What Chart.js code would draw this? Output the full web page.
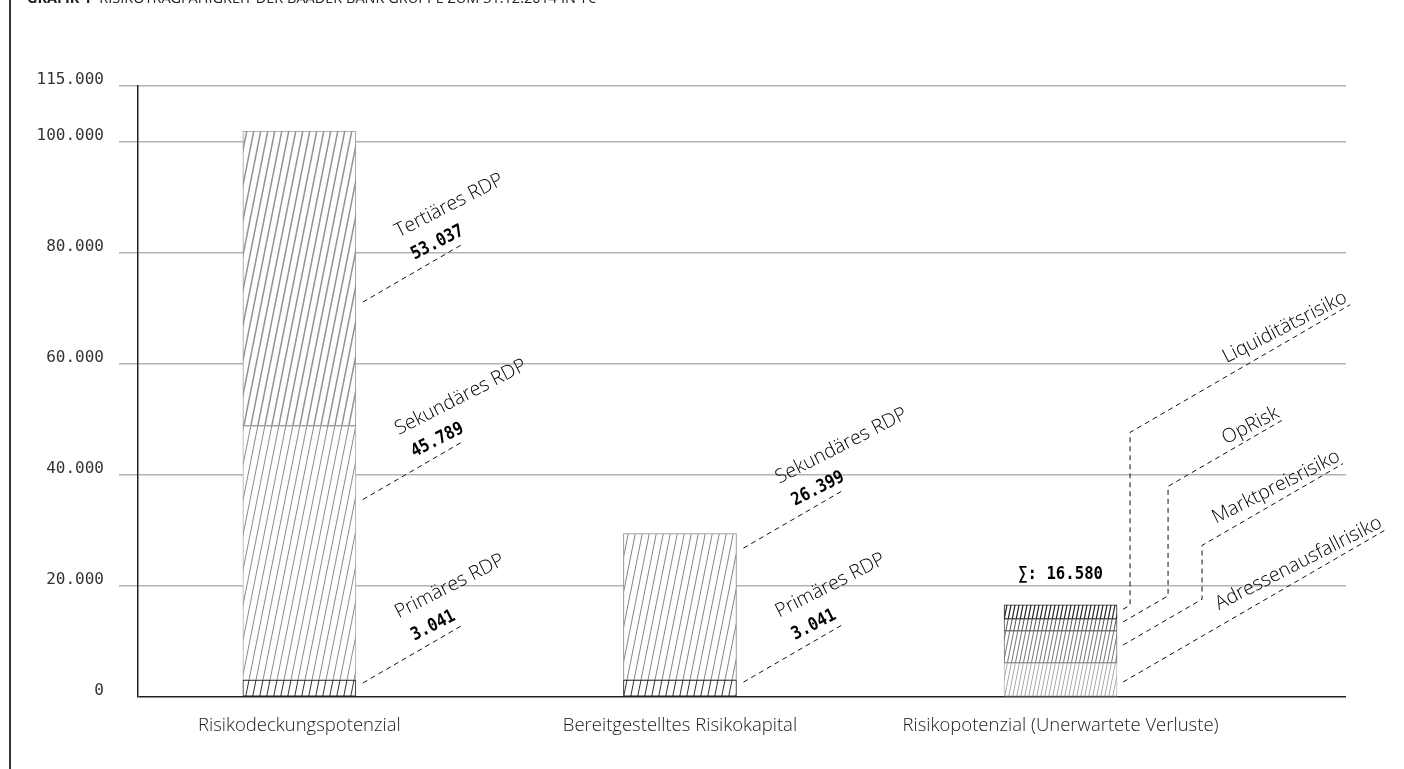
<!DOCTYPE html>
<html lang="de">
<head>
<meta charset="utf-8">
<title>Risikotragfähigkeit der Baader Bank Gruppe</title>
<script src="https://cdn.jsdelivr.net/npm/chart.js@4.4.1/dist/chart.umd.min.js"></script>
<style>
  body { margin: 0; background: #fff; }
  #wrap { position: relative; width: 1404px; height: 769px; overflow: hidden; }
  #frame { position: absolute; left: 9px; top: 0; width: 2px; height: 769px; background: #333; }
  #title { position: absolute; left: 27px; top: -12px; font: 14.5px "Open Sans", sans-serif; color: #222; white-space: nowrap; }
  #title b { margin-right: 4px; }
</style>
</head>
<body>
<div id="wrap">
  <canvas id="chart" width="1404" height="769"></canvas>
  <div id="frame"></div>
  <div id="title"><b>GRAFIK 1</b> RISIKOTRAGFÄHIGKEIT DER BAADER BANK GRUPPE ZUM 31.12.2014 IN T€</div>
</div>
<script>
// Kategorien (x-Achse)
const categories = ['Risikodeckungspotenzial', 'Bereitgestelltes Risikokapital', 'Risikopotenzial (Unerwartete Verluste)'];

// RDP-Segmente (in T€)
const primaer = [3041, 3041, null];
const sekundaer = [45789, 26399, null];
const tertiaer = [53037, null, null];
const rdpNames = ['Primäres RDP', 'Sekundäres RDP', 'Tertiäres RDP'];

// Risikopotenzial nach Risikoart (in T€)
const adressen = [null, null, 6126];
const marktpreis = [null, null, 5766];
const opRisk = [null, null, 2162];
const liquiditaet = [null, null, 2526];
const riskNames = ['Adressenausfallrisiko', 'Marktpreisrisiko', 'OpRisk', 'Liquiditätsrisiko'];

// y-Achse
const yTickValues = [0, 20000, 40000, 60000, 80000, 100000, 110000];
const yTickLabels = ['0', '20.000', '40.000', '60.000', '80.000', '100.000', '115.000'];

const rdpSeries = [primaer, sekundaer, tertiaer];
const riskSeries = [adressen, marktpreis, opRisk, liquiditaet];

const barWidth = 113;
const slope = 0.58;
const textAngle = -27 * Math.PI / 180;
const monoScale = 0.87;
const labelFont = '300 19.5px "Open Sans"';

function fmt(v) {
  return String(v).replace(/\B(?=(\d{3})+(?!\d))/g, '.');
}

const canvas = document.getElementById('chart');
const mainCtx = canvas.getContext('2d');

// diagonal hatch pattern
function hatch(step, color, width) {
  const c = document.createElement('canvas');
  c.width = step;
  c.height = step * 5;
  const g = c.getContext('2d');
  g.fillStyle = '#fff';
  g.fillRect(0, 0, c.width, c.height);
  g.strokeStyle = color;
  g.lineWidth = width;
  for (let k = -1; k <= 1; k++) {
    g.beginPath();
    g.moveTo(k * step, c.height);
    g.lineTo((k + 1) * step, 0);
    g.stroke();
  }
  return mainCtx.createPattern(c, 'repeat');
}

const toPoints = arr => arr.map((v, i) => v == null ? null : { x: i, y: v }).filter(p => p);

function dashed(ctx, pts) {
  ctx.save();
  ctx.setLineDash([5, 4]);
  ctx.strokeStyle = '#111';
  ctx.lineWidth = 1;
  ctx.beginPath();
  pts.forEach((p, j) => j ? ctx.lineTo(p[0], p[1]) : ctx.moveTo(p[0], p[1]));
  ctx.stroke();
  ctx.restore();
}

// where the leader leaves each segment (share of the segment height)
const rdpAnchor = [[0.83, 0.71, 0.42], [0.88, 0.9]];
// bar 3 leaders: anchor share, x of vertical jog, rise of jog above bar top, x of end (px from bar edge)
const riskLeaders = [
  { frac: 0.44, jog: null, rise: 0, end: 268 },
  { frac: 0.56, jog: 85, rise: 59.5, end: 226 },
  { frac: 0.75, jog: 51, rise: 118.5, end: 165 },
  { frac: 0.69, jog: 13, rise: 172.5, end: 233 }
];

const leaderPlugin = {
  id: 'leaders',
  afterDatasetsDraw(chart) {
    const { ctx, scales: { x, y } } = chart;
    const half = barWidth / 2;
    ctx.save();
    ctx.fillStyle = '#000';
    ctx.textBaseline = 'alphabetic';

    rdpSeries.forEach((arr, k) => {
      arr.forEach((v, i) => {
        if (v == null) return;
        let base = 0;
        for (let j = 0; j < k; j++) base += rdpSeries[j][i] || 0;
        const sx = x.getPixelForValue(i) + half + 7;
        const sy = y.getPixelForValue(base + v * rdpAnchor[i][k]);
        const ex = sx + 98, ey = sy - 98 * slope;
        dashed(ctx, [[sx, sy], [ex, ey]]);
        ctx.save();
        ctx.translate(ex, ey);
        ctx.rotate(textAngle);
        ctx.textAlign = 'left';
        ctx.font = labelFont;
        ctx.fillText(rdpNames[k], -52, -35);
        ctx.scale(monoScale, 1);
        ctx.font = 'bold 18px "DejaVu Sans Mono"';
        ctx.fillText(fmt(v), -48 / monoScale, -8);
        ctx.restore();
      });
    });

    // Risikopotenzial
    const bx = 2;
    const right = x.getPixelForValue(bx) + half;
    let total = 0;
    riskSeries.forEach(a => total += a[bx]);
    const topPx = y.getPixelForValue(total);
    let base = 0;
    riskSeries.forEach((arr, k) => {
      const v = arr[bx];
      const L = riskLeaders[k];
      const sx = right + 6;
      const sy = y.getPixelForValue(base + v * L.frac);
      base += v;
      let pts, ex, ey;
      if (L.jog == null) {
        ex = right + L.end;
        ey = sy - (ex - sx) * slope;
        pts = [[sx, sy], [ex, ey]];
      } else {
        const jx = right + L.jog;
        const jy = topPx - L.rise;
        ex = right + L.end;
        ey = jy - (ex - jx) * slope;
        pts = [[sx, sy], [jx, sy - (jx - sx) * slope], [jx, jy], [ex, ey]];
      }
      dashed(ctx, pts);
      ctx.save();
      ctx.translate(ex, ey);
      ctx.rotate(textAngle);
      ctx.textAlign = 'right';
      ctx.font = labelFont;
      ctx.fillText(riskNames[k], 0, -4);
      ctx.restore();
    });

    ctx.save();
    ctx.textAlign = 'center';
    ctx.font = 'bold 18px "DejaVu Sans Mono"';
    ctx.translate(x.getPixelForValue(bx), topPx - 26);
    ctx.scale(monoScale, 1);
    ctx.fillText('∑: ' + fmt(total), 0, 0);
    ctx.restore();

    ctx.restore();
  }
};

const datasets = [
  { label: rdpNames[0], data: toPoints(primaer), backgroundColor: hatch(7, '#333', 1), borderColor: '#222' },
  { label: rdpNames[1], data: toPoints(sekundaer), backgroundColor: [hatch(7, '#8a8a8a', 1), hatch(7, '#666', 0.8)], borderColor: ['#aaa', '#888'] },
  { label: rdpNames[2], data: toPoints(tertiaer), backgroundColor: hatch(7, '#919191', 1.5), borderColor: '#999' },
  { label: riskNames[0], data: toPoints(adressen), backgroundColor: hatch(4, '#aaa', 1), borderColor: '#bbb' },
  { label: riskNames[1], data: toPoints(marktpreis), backgroundColor: hatch(4, '#777', 1), borderColor: '#777' },
  { label: riskNames[2], data: toPoints(opRisk), backgroundColor: hatch(4, '#555', 1), borderColor: '#555' },
  { label: riskNames[3], data: toPoints(liquiditaet), backgroundColor: hatch(4, '#222', 1.2), borderColor: '#222' }
];
datasets.forEach(d => {
  d.borderWidth = 1;
  d.borderSkipped = false;
  d.barThickness = barWidth;
});

const isZero = c => c.tick && c.tick.value === 0;

new Chart(canvas, {
  type: 'bar',
  data: { datasets: datasets },
  options: {
    responsive: false,
    animation: false,
    layout: { padding: { top: 86, right: 58, left: 0, bottom: 0 } },
    plugins: { legend: { display: false }, tooltip: { enabled: false } },
    scales: {
      x: {
        type: 'linear',
        offset: false,
        min: -0.424,
        max: 2.75,
        stacked: true,
        grid: { display: false, offset: false },
        border: { display: false },
        afterBuildTicks: s => { s.ticks = categories.map((c, i) => ({ value: i })); },
        afterFit: s => { s.height = 72; },
        ticks: {
          autoSkip: false,
          maxRotation: 0,
          padding: 10,
          color: '#1a1a1a',
          font: { family: '"Open Sans"', size: 18.5, weight: '300' },
          callback: (v, i) => categories[i]
        }
      },
      y: {
        min: 0,
        max: 110000,
        stacked: true,
        afterBuildTicks: s => { s.ticks = yTickValues.map(v => ({ value: v })); },
        afterFit: s => { s.width = 138; },
        grid: {
          color: c => isZero(c) ? '#222' : '#b3b3b3',
          tickColor: c => isZero(c) ? 'rgba(0,0,0,0)' : '#b3b3b3',
          lineWidth: 1.5,
          tickLength: 19
        },
        border: { color: '#222', width: 1.5 },
        ticks: {
          padding: 15,
          labelOffset: -6,
          color: '#333',
          font: { family: '"DejaVu Sans Mono"', size: 16 },
          callback: (v, i) => yTickLabels[i]
        }
      }
    }
  },
  plugins: [leaderPlugin]
});
</script>
</body>
</html>
